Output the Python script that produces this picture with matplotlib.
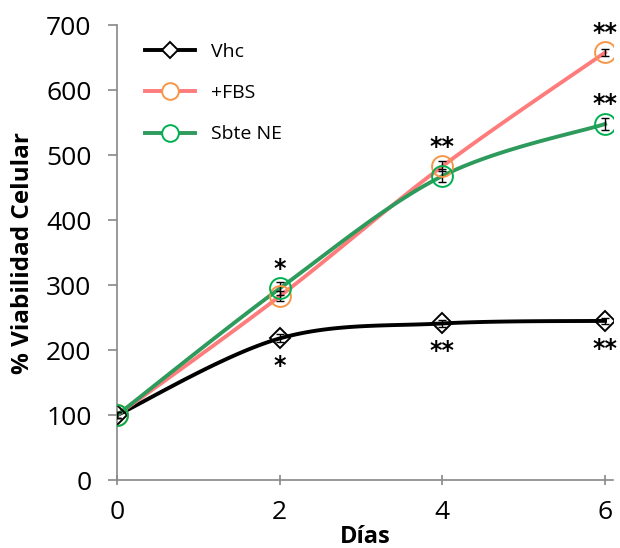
import matplotlib
matplotlib.use("Agg")
import matplotlib.pyplot as plt
import numpy as np
from matplotlib.lines import Line2D

days = [0, 2, 4, 6]
vhc = [100, 218, 241, 245]
fbs = [100, 283, 483, 658]
sbte = [100, 295, 468, 548]
vhc_err = [4, 6, 6, 5]
fbs_err = [4, 8, 8, 6]
sbte_err = [4, 10, 10, 9]

# significance marks: (x, y, text)
marks_above = [(2, 295, "*"), (4, 483, "**"), (6, 658, "**"), (6, 548, "**")]
marks_below = [(2, 218, "*"), (4, 241, "**"), (6, 245, "**")]

plt.rcParams["font.family"] = ["Open Sans", "DejaVu Sans"]


def smooth(x, y, n=40):
    # Catmull-Rom style curve through the points, like Excel smoothed lines
    x = np.asarray(x, float)
    y = np.asarray(y, float)
    px = np.concatenate([[x[0]], x, [x[-1]]])
    py = np.concatenate([[y[0]], y, [y[-1]]])
    xs, ys = [], []
    for i in range(1, len(px) - 2):
        p0, p1, p2, p3 = [np.array([px[j], py[j]]) for j in range(i - 1, i + 3)]
        c1 = p1 + (p2 - p0) / 6
        c2 = p2 - (p3 - p1) / 6
        t = np.linspace(0, 1, n)[:, None]
        pts = ((1 - t) ** 3) * p1 + 3 * ((1 - t) ** 2) * t * c1 + 3 * (1 - t) * t ** 2 * c2 + t ** 3 * p2
        xs.extend(pts[:, 0])
        ys.extend(pts[:, 1])
    return np.array(xs), np.array(ys)


fig = plt.figure(figsize=(6.2, 5.48), dpi=100)
ax = fig.add_axes([0.189, 0.124, 0.80, 0.830])

series = [
    ("Vhc", vhc, vhc_err, "#000000", "#000000", "D", 10.5),
    ("+FBS", fbs, fbs_err, "#ff7c7c", "#f79646", "o", 15),
    ("Sbte NE", sbte, sbte_err, "#2e9a5c", "#00b050", "o", 15),
]
handles = []
for name, vals, err, lc, mc, mk, ms in series:
    sx, sy = smooth(days, vals)
    ax.plot(sx, sy, color=lc, lw=2.8, zorder=2)
    ax.errorbar(days, vals, yerr=err, fmt="none", ecolor="black", elinewidth=1, capsize=3, zorder=3)
    ax.plot(days, vals, ls="none", marker=mk, ms=ms, mfc="none", mec=mc, mew=1.4, zorder=4)
    handles.append(Line2D([], [], color=lc, lw=2.8, marker=mk, ms=ms * 0.8,
                          mfc="white", mec=mc, mew=1.4))

for x, y, s in marks_above:
    ax.annotate(s, (x, y), xytext=(0, 9), textcoords="offset points", ha="center", va="baseline",
                fontsize=17, fontweight="bold", family="DejaVu Sans")
for x, y, s in marks_below:
    ax.annotate(s, (x, y), xytext=(0, -25), textcoords="offset points", ha="center", va="baseline",
                fontsize=17, fontweight="bold", family="DejaVu Sans")

ax.set_xlim(0, 6.1)
ax.set_ylim(0, 700)
ax.set_xticks([0, 2, 4, 6])
ax.set_yticks(range(0, 701, 100))
ax.tick_params(axis="y", labelsize=19, length=6.5, pad=12, color="#888888", width=1.2)
ax.tick_params(axis="x", labelsize=19, length=7, pad=11, direction="inout", color="#888888", width=1.2)
for side in ["top", "right"]:
    ax.spines[side].set_visible(False)
for side in ["left", "bottom"]:
    ax.spines[side].set_color("#888888")
    ax.spines[side].set_linewidth(1.2)

ax.set_xlabel("Días", fontsize=17, fontweight="bold", labelpad=0)
ax.set_ylabel("% Viabilidad Celular", fontsize=17.5, fontweight="bold", labelpad=8)

ax.legend(handles, [s[0] for s in series], loc="upper left", bbox_to_anchor=(0.02, 1.0),
          frameon=False, fontsize=14, handlelength=2.6, labelspacing=1.2)

fig.savefig("out.png", dpi=100)
